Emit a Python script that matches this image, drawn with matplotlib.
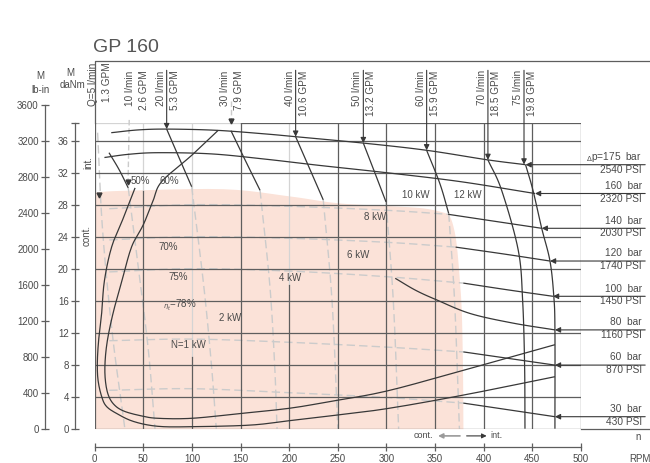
import numpy as np
import matplotlib
matplotlib.use('Agg')
import matplotlib.pyplot as plt

plt.rcParams['font.family'] = ['Liberation Sans', 'DejaVu Sans']

DARK = '#383838'
GRID = '#5e5e5e'
LIGHT = '#d4d4d4'
FAINT = '#cbcbcb'
TEXT = '#4a4a4a'
PINK = '#fbe2d8'

W, H = 650, 463

# axes ranges
rpm_ticks = np.arange(0, 501, 50)
nm_ticks = np.arange(0, 37, 4)
lbin_ticks = np.arange(0, 3601, 400)
t_top = 38.2

# pressure curves, torque in daNm over speed in rpm
p_bar = ['175', '160', '140', '120', '100', '80', '60', '30']
p_psi = ['2540', '2320', '2030', '1740', '1450', '1160', '870', '430']
p175_n = [17, 45, 75, 125, 175, 206.6, 276.2, 341.3, 404.3, 443]
p175_t = [37.0, 37.35, 37.45, 37.3, 36.85, 36.5, 35.7, 34.8, 33.6, 33.0]
p160_n = [10, 35, 65, 120, 175, 232, 300, 375, 452.7]
p160_t = [33.9, 34.3, 34.5, 34.35, 33.7, 32.9, 32.0, 30.9, 29.4]
p140_n = [363.4, 410, 459.6]
p140_t = [26.8, 25.95, 25.05]
p120_n = [371, 420, 468.1]
p120_t = [22.7, 21.85, 20.96]
p100_n = [379, 425, 471.2]
p100_t = [18.2, 17.35, 16.55]
p80_n = [309, 330, 351.6, 386, 430, 473.2]
p80_t = [18.8, 17.3, 16.1, 14.4, 13.2, 12.35]
p60_n = [379, 473.2]
p60_t = [9.6, 7.95]
p30_n = [379, 473.2]
p30_t = [3.2, 1.5]

# same pressures inside the continuous range (light)
p140_cn = [15, 100, 200, 300, 363.4]
p140_ct = [27.5, 28.0, 27.8, 27.3, 26.8]
p120_cn = [15, 100, 200, 300, 371]
p120_ct = [23.6, 24.0, 23.8, 23.3, 22.7]
p100_cn = [15, 100, 200, 300, 379]
p100_ct = [19.6, 20.0, 19.7, 19.0, 18.2]
p60_cn = [15, 100, 200, 300, 379]
p60_ct = [11.0, 11.2, 10.8, 10.2, 9.6]
p30_cn = [15, 100, 200, 300, 379]
p30_ct = [4.8, 5.0, 4.5, 3.9, 3.2]

# flow lines
q_lmin = ['Q=5', '10', '20', '30', '40', '50', '60', '70', '75']
q_gpm = ['1.3', '2.6', '5.3', '7.9', '10.6', '13.2', '15.9', '18.5', '19.8']
q_label_n = [4.0, 42.0, 74.0, 140.1, 206.6, 276.2, 341.3, 404.3, 441.4]
q10_n = [14.7, 25, 34.5]
q10_t = [34.5, 32.4, 30.1]
q20_n = [74.0, 87, 99.7]
q20_t = [37.45, 33.8, 30.25]
q30_n = [140.1, 155, 170]
q30_t = [37.25, 33.5, 29.8]
q40_n = [206.6, 221, 235]
q40_t = [36.5, 32.5, 28.6]
q50_n = [276.2, 288, 299.5]
q50_t = [35.7, 32.0, 28.35]
q60_n = [341.3, 355, 364]
q60_t = [34.8, 30.6, 26.9]
q70_n = [404.3, 418.4, 435.5, 440, 442, 442.4]
q70_t = [33.6, 29.8, 22.3, 16.0, 8.0, 0.0]
q75_n = [443, 450.6, 459.6, 468.1, 472, 473.2, 473.2]
q75_t = [33.0, 29.8, 25.05, 20.96, 16.6, 12.4, 0.0]

# flow lines inside the continuous range (light)
q5_cn = [3, 8, 18, 31]
q5_ct = [37.0, 25.0, 12.0, 0.0]
q10_cn = [34.5, 45, 55, 62]
q10_ct = [30.1, 20.0, 10.0, 0.0]
q20_cn = [99.7, 112, 120, 125]
q20_ct = [30.25, 18.0, 8.0, 0.0]
q30_cn = [170, 180, 185, 187.5]
q30_ct = [29.8, 18.0, 8.0, 0.0]
q40_cn = [235, 244, 250]
q40_ct = [28.6, 16.0, 0.0]
q50_cn = [299.5, 307, 312.5]
q50_ct = [28.35, 16.0, 0.0]
q60_cn = [364, 370, 375]
q60_ct = [26.9, 16.0, 0.0]

# total efficiency curves
eff50_n = [41.5, 30, 17.5, 10, 7.2, 4, 2.7, 3.5, 7.2, 12, 22.6, 40, 65, 100,
           160, 200, 242, 300, 379, 473.2]
eff50_t = [30.1, 26.5, 22.75, 18.5, 14.5, 11.0, 8.2, 6.0, 4.0, 2.8, 1.9, 0.9,
           0.3, 0.25, 0.45, 1.0, 1.6, 2.5, 4.2, 6.5]
eff60_n = [127, 100, 69, 60, 50, 38, 28, 19, 13, 10.6, 11, 14, 20, 30, 48, 65,
           100, 150, 200, 242, 300, 379, 473.2]
eff60_t = [37.3, 34.2, 30.9, 28.5, 25.5, 22.75, 18.5, 14.5, 11.0, 8.2, 6.0, 4.2,
           3.0, 2.2, 1.6, 1.3, 1.3, 1.9, 2.55, 3.4, 4.7, 7.3, 10.5]

# continuous operation range
cont_n = [0, 30, 132, 200, 249, 300, 337.5, 360, 365, 369, 372, 375, 377,
          378.2, 378.6]
cont_t = [29.6, 29.8, 30.0, 29.1, 28.25, 27.9, 27.6, 27.0, 26.5, 25.0, 22.75,
          18.5, 14.4, 7.0, 0.0]

eff_labels = ['50%', '60%', '70%', '75%', r'${}_{\eta_t}$=78%']
eff_label_pos = [(46.6, 31.0), (76.4, 31.0), (75.4, 22.7), (85.6, 19.0), (88.0, 15.5)]
kw_labels = ['N=1 kW', '2 kW', '4 kW', '6 kW', '8 kW', '10 kW', '12 kW']
kw_label_pos = [(96, 10.5), (139.1, 13.8), (200.8, 18.85), (270.7, 21.7),
                (288.2, 26.45), (330.3, 29.2), (383.8, 29.2)]


def smooth(xs, ys, k=10):
    # Catmull-Rom through the given points
    p = np.column_stack([xs, ys]).astype(float)
    if len(p) < 3:
        return p[:, 0], p[:, 1]
    p = np.vstack([2 * p[0] - p[1], p, 2 * p[-1] - p[-2]])
    out = []
    s = np.linspace(0, 1, k, endpoint=False)[:, None]
    for i in range(1, len(p) - 2):
        p0, p1, p2, p3 = p[i - 1], p[i], p[i + 1], p[i + 2]
        c = 0.5 * ((2 * p1) + (-p0 + p2) * s + (2 * p0 - 5 * p1 + 4 * p2 - p3) * s ** 2
                   + (-p0 + 3 * p1 - 3 * p2 + p3) * s ** 3)
        out.append(c)
    out.append(p[-2][None, :])
    out = np.vstack(out)
    return out[:, 0], out[:, 1]


def curve(ax, xs, ys, color=DARK, lw=0.9, ls='-', z=4):
    x, y = smooth(xs, ys)
    ax.plot(x, y, color=color, lw=lw, ls=ls, zorder=z, clip_on=False,
            solid_capstyle='butt')


fig = plt.figure(figsize=(W / 100, H / 100), dpi=100)
fig.patch.set_facecolor('white')

x0, x1 = 94.7, 581.0
y_zero = 428.7
px_per_nm = 8.0
ax = fig.add_axes([x0 / W, (H - y_zero) / H, (x1 - x0) / W, t_top * px_per_nm / H])
ax.set_xlim(0, 500)
ax.set_ylim(0, t_top)
ax.axis('off')

# continuous range
cn, ct = smooth(cont_n, cont_t, k=6)
ax.fill_between(cn, 0, ct, color=PINK, lw=0, zorder=0)

# grid
for t in nm_ticks:
    ax.plot([0, 500], [t, t], color=GRID, lw=0.9, zorder=2)
ax.plot([500, 575], [0, 0], color=GRID, lw=0.9, zorder=2, clip_on=False)
ax.plot([0, 150], [t_top, t_top], color=LIGHT, lw=0.9, zorder=1)
ax.plot([150, 500], [t_top, t_top], color=GRID, lw=0.9, zorder=2)
dark_to = {0: t_top, 50: 29.7, 100: 9.0, 150: t_top, 200: 18.0}
for n in rpm_ticks:
    top = dark_to.get(n, t_top)
    ax.plot([n, n], [0, top], color=GRID, lw=0.9, zorder=2)
    if top < t_top:
        ax.plot([n, n], [top, t_top], color=LIGHT, lw=0.9, zorder=1)

# outer frame
frame_top = 45.96
ax.plot([0, 0, 575], [t_top, frame_top, frame_top], color=GRID, lw=0.9,
        clip_on=False, zorder=2)

# light background curves
for xs, ys in [(p140_cn, p140_ct), (p120_cn, p120_ct), (p100_cn, p100_ct),
               (p60_cn, p60_ct), (p30_cn, p30_ct), (q5_cn, q5_ct),
               (q10_cn, q10_ct), (q20_cn, q20_ct), (q30_cn, q30_ct),
               (q40_cn, q40_ct), (q50_cn, q50_ct), (q60_cn, q60_ct)]:
    curve(ax, xs, ys, color=FAINT, lw=1.0, ls=(0, (6, 3)), z=1)

# pressure curves
p_curves = [(p175_n, p175_t), (p160_n, p160_t), (p140_n, p140_t),
            (p120_n, p120_t), (p100_n, p100_t), (p80_n, p80_t),
            (p60_n, p60_t), (p30_n, p30_t)]
for xs, ys in p_curves:
    curve(ax, xs, ys)

# flow curves
for xs, ys in [(q10_n, q10_t), (q20_n, q20_t), (q30_n, q30_t), (q40_n, q40_t),
               (q50_n, q50_t), (q60_n, q60_t), (q70_n, q70_t), (q75_n, q75_t)]:
    curve(ax, xs, ys)

# efficiency curves
curve(ax, eff50_n, eff50_t)
curve(ax, eff60_n, eff60_t)

# pressure arrows and labels on the right
arrow_start = 566
for (xs, ys), bar, psi in zip(p_curves, p_bar, p_psi):
    n_end, t_end = xs[-1], ys[-1]
    ax.annotate('', xy=(n_end, t_end), xytext=(arrow_start, t_end),
                arrowprops=dict(arrowstyle='-|>', color=DARK, lw=0.8,
                                mutation_scale=8, shrinkA=0, shrinkB=0),
                annotation_clip=False, zorder=5)
    top_txt = (r'${}_{\Delta}$p=' if bar == '175' else '') + bar + '  bar'
    ax.text(562.7, t_end + 0.95, top_txt, ha='right', va='center',
            fontsize=7.3, color=TEXT, clip_on=False)
    ax.text(562.7, t_end - 0.65, psi + ' PSI', ha='right', va='center',
            fontsize=7.3, color=TEXT, clip_on=False)

# flow labels and arrows on top
label_top = 44.8
for i, (q, g, n) in enumerate(zip(q_lmin, q_gpm, q_label_n)):
    top = 45.8 if i == 0 else label_top
    ax.text(n - 6.2, top, q + ' l/min', rotation=90, ha='center', va='top',
            fontsize=7.2, color=TEXT, clip_on=False)
    ax.text(n + 8.2, top, g + ' GPM', rotation=90, ha='center', va='top',
            fontsize=7.2, color=TEXT, clip_on=False)
    if i >= 2 and i != 3:
        tip = np.interp(n, p175_n, p175_t)
        ax.annotate('', xy=(n, tip), xytext=(n, label_top),
                    arrowprops=dict(arrowstyle='-|>', color=DARK, lw=0.8,
                                    mutation_scale=8, shrinkA=0, shrinkB=0),
                    annotation_clip=False, zorder=5)

# leaders without a curve end
ax.plot([35.5, 34.3], [38.6, 30.9], color=FAINT, lw=1.0, ls=(0, (4, 2)),
        clip_on=False, zorder=1)
ax.plot([34.3], [30.9], marker='v', ms=3.5, color=DARK, zorder=5)
ax.plot([140.1, 140.1], [41.0, 38.6], color=FAINT, lw=1.0, ls=(0, (4, 2)),
        clip_on=False, zorder=1)
ax.plot([140.1], [38.5], marker='v', ms=3.5, color=DARK, clip_on=False, zorder=5)
ax.plot([4.2], [29.2], marker='v', ms=3.5, color=DARK, zorder=5)

for lab, (n, t) in zip(eff_labels, eff_label_pos):
    ax.text(n, t, lab, ha='center', va='center', fontsize=7, color=TEXT, zorder=6)
for lab, (n, t) in zip(kw_labels, kw_label_pos):
    ax.text(n, t, lab, ha='center', va='center', fontsize=7, color=TEXT, zorder=6)

# int./cont. markers
ax.text(-6.9, 33.3, 'int.', rotation=90, ha='center', va='center', fontsize=7,
        color=TEXT, clip_on=False)
ax.text(-8.8, 24.2, 'cont.', rotation=90, ha='center', va='center', fontsize=7,
        color=TEXT, clip_on=False)
ax.text(337.5, -0.9, 'cont.', ha='center', va='center', fontsize=6.5,
        color=TEXT, clip_on=False)
ax.annotate('', xy=(353, -0.9), xytext=(375.6, -0.9),
            arrowprops=dict(arrowstyle='-|>', color='#9a9a9a', lw=1.2,
                            mutation_scale=7, shrinkA=0, shrinkB=0),
            annotation_clip=False)
ax.annotate('', xy=(403, -0.9), xytext=(382.4, -0.9),
            arrowprops=dict(arrowstyle='-|>', color=DARK, lw=0.8,
                            mutation_scale=7, shrinkA=0, shrinkB=0),
            annotation_clip=False)
ax.text(407, -0.9, 'int.', ha='left', va='center', fontsize=6.5,
        color=TEXT, clip_on=False)
ax.text(558.6, -1.0, 'n', ha='center', va='center', fontsize=7,
        color=TEXT, clip_on=False)

# lb-in scale
ax_lb = fig.add_axes([45 / W, (H - y_zero) / H, 0.0001, 324 / H])
ax_lb.set_ylim(0, 3600)
ax_lb.set_xticks([])
ax_lb.set_yticks(lbin_ticks)
for s in ['top', 'right', 'bottom']:
    ax_lb.spines[s].set_visible(False)
ax_lb.spines['left'].set_color(GRID)
ax_lb.spines['left'].set_linewidth(0.9)
ax_lb.tick_params(axis='y', direction='inout', length=6, width=0.9, color=GRID,
                  labelsize=7, labelcolor=TEXT, pad=1.5)
ax_lb.patch.set_visible(False)

# daNm scale
ax_nm = fig.add_axes([75 / W, (H - y_zero) / H, 0.0001, t_top * px_per_nm / H])
ax_nm.set_ylim(0, t_top)
ax_nm.set_xticks([])
ax_nm.set_yticks(list(nm_ticks) + [t_top])
ax_nm.set_yticklabels([str(v) for v in nm_ticks] + [''])
for s in ['top', 'right', 'bottom']:
    ax_nm.spines[s].set_visible(False)
ax_nm.spines['left'].set_color(GRID)
ax_nm.spines['left'].set_linewidth(0.9)
ax_nm.tick_params(axis='y', direction='inout', length=6, width=0.9, color=GRID,
                  labelsize=7, labelcolor=TEXT, pad=1.5)
ax_nm.patch.set_visible(False)

# speed scale
ax_n = fig.add_axes([x0 / W, (H - 447.3) / H, (x1 - x0) / W, 0.0001])
ax_n.set_xlim(0, 500)
ax_n.set_yticks([])
ax_n.set_xticks(rpm_ticks)
for s in ['top', 'right', 'left']:
    ax_n.spines[s].set_visible(False)
ax_n.spines['bottom'].set_color(GRID)
ax_n.spines['bottom'].set_linewidth(0.9)
ax_n.tick_params(axis='x', direction='inout', length=6, width=0.9, color=GRID,
                 labelsize=7, labelcolor=TEXT, pad=2)
ax_n.patch.set_visible(False)


def fx(px):
    return px / W


def fy(py):
    return 1 - py / H


fig.text(fx(640), fy(459), 'RPM', ha='center', va='center', fontsize=7, color=TEXT)
fig.text(fx(40), fy(76), 'M', ha='center', va='center', fontsize=7, color=TEXT)
fig.text(fx(41), fy(90), 'lb-in', ha='center', va='center', fontsize=7, color=TEXT)
fig.text(fx(70), fy(73), 'M', ha='center', va='center', fontsize=7, color=TEXT)
fig.text(fx(72.5), fy(85.5), 'daNm', ha='center', va='center', fontsize=7, color=TEXT)
fig.text(fx(93), fy(47), 'GP 160', ha='left', va='center', fontsize=14, color='#555555')

fig.savefig('out.png', dpi=100)
